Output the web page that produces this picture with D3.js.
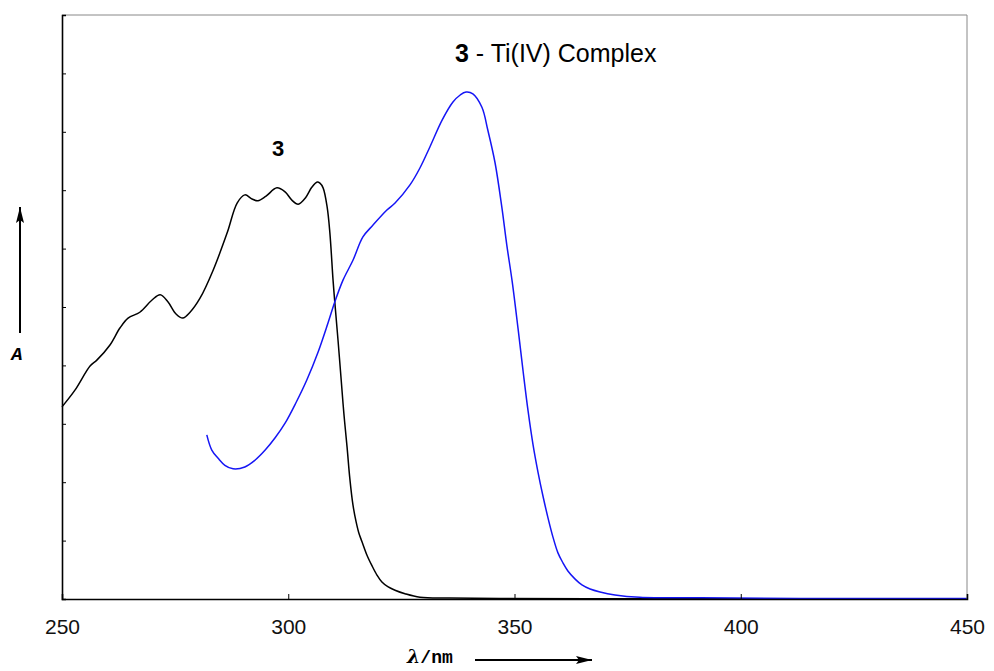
<!DOCTYPE html>
<html>
<head>
<meta charset="utf-8">
<script src="https://cdn.jsdelivr.net/npm/d3@7"></script>
<style>
  body { margin: 0; background: #fff; }
  svg { display: block; }
</style>
</head>
<body>
<svg id="chart"></svg>
<script>
// spectra: wavelength (nm) and absorbance (arbitrary units)
const ligandNm = [250, 252.9, 256.2, 257.7, 260.6, 262.8, 264.6, 267.2, 269.9, 271.7, 273.4, 275.2, 276.7, 278.3, 280.5, 283.4, 286.5, 288.7, 290.4, 292.0, 293.3, 295.1, 297.5, 299.3, 300.8, 302.2, 303.9, 305.2, 306.4, 307.0, 307.7, 308.6, 309.2, 309.9, 310.3, 311.0, 311.7, 312.3, 313.0, 313.6, 314.3, 315.0, 315.6, 316.3, 317.4, 318.5, 319.6, 320.7, 322.0, 323.6, 325.8, 329.1, 335.7, 346.8, 370, 400, 450];
const ligandA  = [3.29, 3.58, 3.99, 4.09, 4.35, 4.64, 4.81, 4.91, 5.12, 5.21, 5.09, 4.88, 4.81, 4.91, 5.15, 5.63, 6.27, 6.78, 6.92, 6.85, 6.82, 6.90, 7.04, 6.97, 6.83, 6.76, 6.88, 7.05, 7.14, 7.12, 7.04, 6.71, 6.27, 5.46, 5.07, 4.43, 3.75, 3.17, 2.60, 2.07, 1.61, 1.32, 1.13, 0.98, 0.75, 0.57, 0.41, 0.29, 0.21, 0.15, 0.09, 0.03, 0.017, 0.01, 0.006, 0.005, 0.005];

const complexNm = [282.0, 283.1, 284.5, 286.0, 287.8, 290.4, 292.7, 294.9, 297.1, 299.3, 301.7, 304.1, 306.6, 308.8, 310.3, 312.1, 314.3, 316.5, 318.7, 321.8, 323.6, 326.9, 329.1, 331.3, 334.0, 336.4, 338.0, 339.3, 340.8, 342.8, 344.1, 345.7, 347.2, 348.3, 349.5, 350.8, 351.9, 353.0, 354.1, 355.2, 356.3, 357.4, 358.5, 359.6, 360.7, 361.8, 363.4, 364.9, 366.7, 368.9, 372.2, 377.7, 391.0, 413.1, 450];
const complexA  = [2.81, 2.55, 2.41, 2.29, 2.23, 2.26, 2.38, 2.55, 2.76, 3.01, 3.36, 3.75, 4.23, 4.73, 5.09, 5.46, 5.80, 6.20, 6.40, 6.66, 6.78, 7.09, 7.38, 7.74, 8.20, 8.51, 8.63, 8.68, 8.65, 8.42, 8.03, 7.47, 6.71, 6.06, 5.43, 4.62, 3.90, 3.22, 2.64, 2.17, 1.76, 1.39, 1.06, 0.79, 0.62, 0.48, 0.34, 0.24, 0.17, 0.12, 0.07, 0.03, 0.02, 0.01, 0.01];

const xTicks = [250, 300, 350, 400, 450];
const yTicks = [1, 2, 3, 4, 5, 6, 7, 8, 9];

const width = 994, height = 671;
const margin = {left: 62, right: 27, top: 15, bottom: 72};

const x = d3.scaleLinear().domain([250, 450]).range([margin.left, width - margin.right]);
const y = d3.scaleLinear().domain([0, 10]).range([height - margin.bottom, margin.top]);

const svg = d3.select('#chart').attr('width', width).attr('height', height);

svg.append('defs').append('marker')
  .attr('id', 'head')
  .attr('viewBox', '0 0 16 10')
  .attr('refX', 16).attr('refY', 5)
  .attr('markerWidth', 16).attr('markerHeight', 10)
  .attr('markerUnits', 'userSpaceOnUse')
  .attr('orient', 'auto')
  .append('path').attr('d', 'M0,1 L16,5 L0,9 L3,5 Z').attr('fill', '#000');

// spectra
const line = d3.line()
  .x(d => x(d[0]))
  .y(d => y(d[1]))
  .curve(d3.curveCatmullRom.alpha(0.5));

svg.append('path')
  .datum(d3.zip(ligandNm, ligandA))
  .attr('fill', 'none')
  .attr('stroke', '#000')
  .attr('stroke-width', 1.5)
  .attr('d', line);

svg.append('path')
  .datum(d3.zip(complexNm, complexA))
  .attr('fill', 'none')
  .attr('stroke', '#1515f5')
  .attr('stroke-width', 1.5)
  .attr('d', line);

// frame: top and right grey, left and bottom black
const x0 = x(250), x1 = x(450), y0 = y(0), y1 = y(10);
svg.append('line').attr('x1', x0).attr('x2', x1).attr('y1', y1).attr('y2', y1)
  .attr('stroke', '#888').attr('stroke-width', 1);
svg.append('line').attr('x1', x1).attr('x2', x1).attr('y1', y1).attr('y2', y0)
  .attr('stroke', '#888').attr('stroke-width', 1);

// axes with inward ticks
const xAxis = svg.append('g')
  .attr('transform', `translate(0,${y0})`)
  .call(d3.axisBottom(x).tickValues(xTicks).tickSize(-5).tickPadding(20).tickFormat(d3.format('d')));
xAxis.select('.domain').attr('stroke-width', 1.6);
xAxis.selectAll('.tick text')
  .attr('font-family', 'Liberation Sans, Arial, sans-serif')
  .attr('font-size', 21)
  .attr('fill', '#111');

const yAxis = svg.append('g')
  .attr('transform', `translate(${x0},0)`)
  .call(d3.axisLeft(y).tickValues(yTicks).tickSize(-4).tickFormat(''));
yAxis.select('.domain').attr('stroke-width', 1.6);

// axis labels with arrows
svg.append('line')
  .attr('x1', 20).attr('x2', 20).attr('y1', 333).attr('y2', 207)
  .attr('stroke', '#000').attr('stroke-width', 2)
  .attr('marker-end', 'url(#head)');
svg.append('text')
  .attr('x', 17).attr('y', 360)
  .attr('text-anchor', 'middle')
  .attr('font-family', 'Courier New, Liberation Mono, monospace')
  .attr('font-weight', 'bold').attr('font-style', 'italic')
  .attr('font-size', 19)
  .text('A');

const xl = svg.append('text')
  .attr('x', 407).attr('y', 663)
  .attr('font-size', 19);
xl.append('tspan')
  .attr('font-family', 'DejaVu Serif, serif')
  .attr('font-weight', 'bold').attr('font-style', 'italic')
  .text('λ');
xl.append('tspan')
  .attr('font-family', 'Courier New, Liberation Mono, monospace')
  .attr('font-weight', 'bold')
  .attr('font-size', 18)
  .text('/nm');

svg.append('line')
  .attr('x1', 475).attr('x2', 592).attr('y1', 660).attr('y2', 660)
  .attr('stroke', '#000').attr('stroke-width', 2)
  .attr('marker-end', 'url(#head)');

// annotations
svg.append('text')
  .attr('x', 278).attr('y', 156)
  .attr('text-anchor', 'middle')
  .attr('font-family', 'Liberation Sans, Arial, sans-serif')
  .attr('font-weight', 'bold').attr('font-size', 22)
  .text('3');

const title = svg.append('text')
  .attr('x', 455).attr('y', 62)
  .attr('font-family', 'Liberation Sans, Arial, sans-serif')
  .attr('font-size', 25);
title.append('tspan').attr('font-weight', 'bold').text('3');
title.append('tspan').text(' - Ti(IV) Complex');
</script>
</body>
</html>
